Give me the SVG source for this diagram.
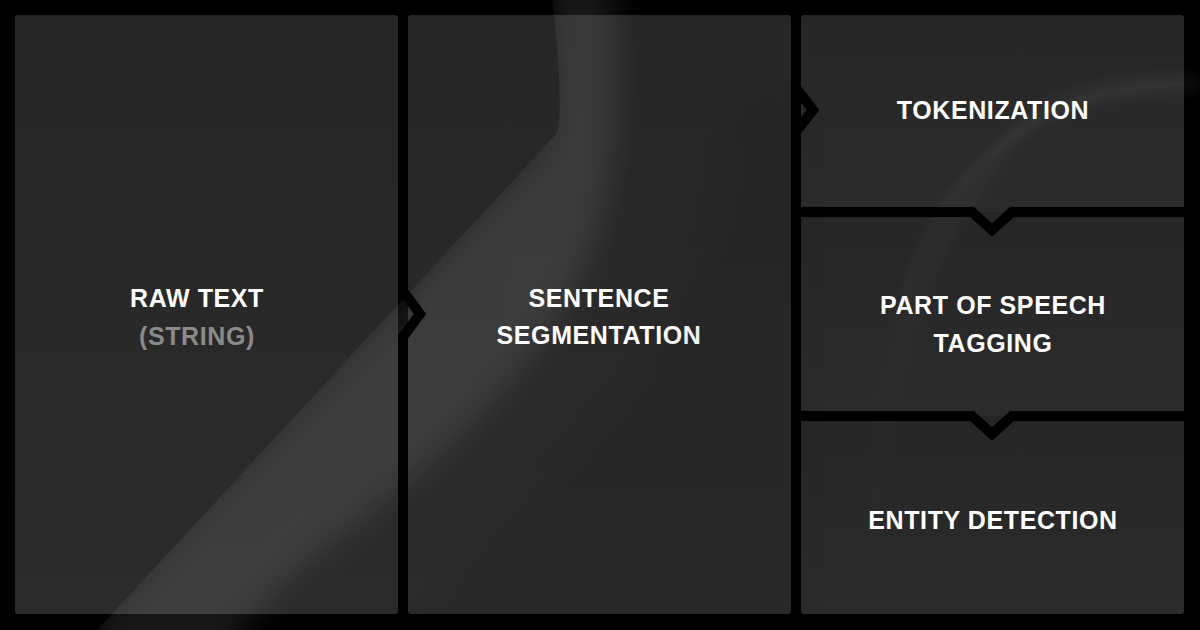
<svg xmlns="http://www.w3.org/2000/svg" width="1200" height="630" viewBox="0 0 1200 630">
  <style>
    .panel { fill: url(#pg); }
    .t { font-family: "Liberation Sans", Arial, sans-serif; font-weight: 700; font-size: 25px; fill: #ffffff; text-anchor: middle; letter-spacing: 0.6px; }
    .sub { fill: #8a8a8a; }
    .div { fill: none; stroke: #000000; stroke-width: 10; stroke-linejoin: miter; stroke-miterlimit: 10; }
  </style>
  <defs>
    <linearGradient id="pg" x1="0" y1="0" x2="0" y2="1">
      <stop offset="0" stop-color="#262626"/>
      <stop offset="1" stop-color="#2b2b2b"/>
    </linearGradient>
    <linearGradient id="arcFade" gradientUnits="userSpaceOnUse" x1="0" y1="80" x2="0" y2="630">
      <stop offset="0" stop-color="#ffffff" stop-opacity="1"/>
      <stop offset="0.3" stop-color="#ffffff" stop-opacity="0.8"/>
      <stop offset="0.6" stop-color="#ffffff" stop-opacity="0.25"/>
      <stop offset="1" stop-color="#ffffff" stop-opacity="0.1"/>
    </linearGradient>
    <filter id="blur16" x="-50%" y="-50%" width="200%" height="200%">
      <feGaussianBlur stdDeviation="16"/>
    </filter>
    <filter id="blur8" x="-50%" y="-50%" width="200%" height="200%">
      <feGaussianBlur stdDeviation="8"/>
    </filter>
    <filter id="blur4" x="-50%" y="-50%" width="200%" height="200%">
      <feGaussianBlur stdDeviation="4"/>
    </filter>
    <clipPath id="rightOfLine">
      <path d="M 97,630 L 557,133 C 562,120 560,60 552,0 L 1200,0 L 1200,630 Z"/>
    </clipPath>
  </defs>

  <rect id="background" x="0" y="0" width="1200" height="630" fill="#000000"/>

  <g id="node-raw-text">
    <rect class="panel" x="15" y="15" width="383" height="599" rx="3"/>
    <text class="t" x="197" y="307">RAW TEXT</text>
    <text class="t sub" x="197" y="345">(STRING)</text>
  </g>
  <g id="node-sentence-segmentation">
    <rect class="panel" x="408" y="15" width="383" height="599" rx="3"/>
    <text class="t" x="599" y="307">SENTENCE</text>
    <text class="t" x="599" y="344">SEGMENTATION</text>
  </g>
  <g id="node-tokenization">
    <rect class="panel" x="801" y="15" width="383" height="197" rx="3"/>
    <text class="t" x="993" y="119">TOKENIZATION</text>
  </g>
  <g id="node-pos-tagging">
    <rect class="panel" x="801" y="212" width="383" height="204"/>
    <text class="t" x="993" y="314">PART OF SPEECH</text>
    <text class="t" x="993" y="352">TAGGING</text>
  </g>
  <g id="node-entity-detection">
    <rect class="panel" x="801" y="416" width="383" height="198" rx="3"/>
    <text class="t" x="993" y="529">ENTITY DETECTION</text>
  </g>

  <g id="decor" pointer-events="none">
    <g clip-path="url(#rightOfLine)">
      <path d="M 60,660 L 540,150 C 556,110 552,60 545,-20 L 612,-20 C 620,70 616,160 600,220 C 570,330 480,430 360,520 C 300,565 250,605 225,660 Z"
            fill="#ffffff" opacity="0.09" filter="url(#blur16)"/>
      <path d="M 400,660 C 470,560 560,470 640,380 C 700,300 730,200 740,100 L 800,100 L 800,660 Z"
            fill="#000000" opacity="0.06" filter="url(#blur16)"/>
    </g>
    <path d="M 870,640 C 862,420 920,190 1050,110 C 1100,88 1160,82 1200,84" fill="none" stroke="url(#arcFade)" stroke-width="16" opacity="0.045" filter="url(#blur8)"/>
    <path d="M 905,300 C 915,230 965,160 1050,112 C 1100,90 1160,83 1200,85" fill="none" stroke="#ffffff" stroke-width="3" opacity="0.07" filter="url(#blur4)"/>
  </g>

  <g id="connectors">
    <polyline class="div" points="403,10 403,291 420,314 403,337 403,620"/>
    <polyline class="div" points="796,10 796,88 813,110 796,132 796,620"/>
    <polyline class="div" points="796,212 972,212 992,230 1012,212 1190,212"/>
    <polyline class="div" points="796,416 972,416 992,434 1012,416 1190,416"/>
  </g>
</svg>
